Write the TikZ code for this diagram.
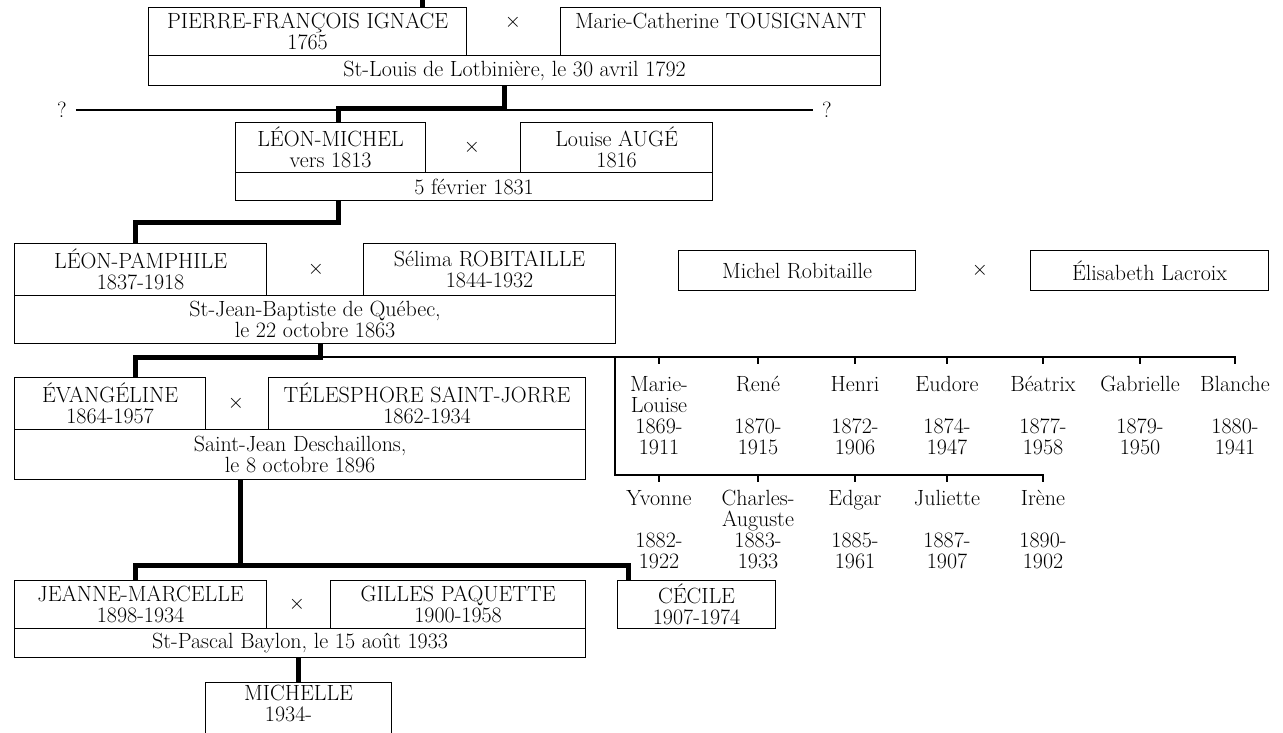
\documentclass[tikz,border=0pt]{standalone}
\usetikzlibrary{positioning,calc}
\begin{document}
\begin{tikzpicture}[x=1pt,y=-1pt]
\tikzset{
  person/.style={draw, line width=1.2pt, inner sep=0pt, align=center, anchor=north west,
                 font=\fontsize{22}{21}\selectfont},
  kid/.style={inner sep=0pt, align=center, anchor=north, font=\fontsize{22}{21}\selectfont},
  fois/.style={font=\fontsize{22}{21}\selectfont},
  qmark/.style={inner sep=9pt, font=\fontsize{22}{21}\selectfont},
  lien/.style={line width=5pt},
  fil/.style={line width=1.2pt}
}
\useasboundingbox (0,0) rectangle (1283,732);

    % generation 1
    \node[person, minimum width=318, minimum height=48] (pierre) at (148,7) {PIERRE-FRANÇOIS IGNACE\\1765};
    \node[fois] (x1) at (513,22) {$\times$};
    \node[person, minimum width=320, minimum height=48] (mcath) at (560,7) {Marie-Catherine TOUSIGNANT\\\mbox{}};
    \node[person, minimum width=732, minimum height=30] (mar1) at (148,55) {St-Louis de Lotbinière, le 30 avril 1792};

    \coordinate (haut) at (422,0);
    \draw[lien] (haut) -- (haut |- pierre.north);

    \node[qmark] (q1) at (62,110) {?};
    \node[qmark] (q2) at (827,110) {?};
    \draw[fil] (q1) -- (q2);

    % generation 2
    \node[person, minimum width=190, minimum height=50] (lmichel) at (235,122) {LÉON-MICHEL\\vers 1813};
    \node[fois] (x2) at (472,147) {$\times$};
    \node[person, minimum width=192, minimum height=50] (lauge) at (520,122) {Louise AUGÉ\\1816};
    \node[person, minimum width=477, minimum height=28] (mar2) at (235,172) {5 février 1831};

    \coordinate (j1) at (504,108);
    \draw[lien] (j1 |- mar1.south) -- (j1) -| ([xshift=8pt]lmichel.north);

    % generation 3
    \node[person, minimum width=252, minimum height=52] (lpamph) at (14,243) {LÉON-PAMPHILE\\1837-1918};
    \node[fois] (x3) at (316,269) {$\times$};
    \node[person, minimum width=252, minimum height=52] (selima) at (363,243) {Sélima ROBITAILLE\\1844-1932};
    \node[person, minimum width=601, minimum height=48] (mar3) at (14,295) {St-Jean-Baptiste de Québec,\\le 22 octobre 1863};

    \coordinate (j2) at (338,222);
    \draw[lien] (j2 |- mar2.south) -- (j2) -| (135,243);

    \node[person, minimum width=237, minimum height=40] (mrob) at (678,250) {Michel Robitaille};
    \node[fois] (x4) at (980,270) {$\times$};
    \node[person, minimum width=238, minimum height=40] (elac) at (1030,250) {Élisabeth Lacroix};

    % generation 4
    \node[person, minimum width=191, minimum height=52] (evang) at (14,377) {ÉVANGÉLINE\\1864-1957};
    \node[fois] (x5) at (236,403) {$\times$};
    \node[person, minimum width=317, minimum height=52] (telesph) at (268,377) {TÉLESPHORE SAINT-JORRE\\1862-1934};
    \node[person, minimum width=571, minimum height=50] (mar4) at (14,429) {Saint-Jean Deschaillons,\\le 8 octobre 1896};

    \coordinate (j3) at (320,357);
    \draw[lien] (j3 |- mar3.south) -- (j3) -| ([xshift=25pt]evang.north);

    % freres et soeurs
    \coordinate (f1) at (615,357);
    \coordinate (f2) at (615,475);
    \draw[fil] (j3) -- (1235,357) -- ++(0,7);
    \draw[fil] (f1) -- (f2) -- (1043,475) -- ++(0,7);
    \foreach \n/\x/\t in {k1/659/{Marie-\\Louise\\1869-\\1911}, k2/758/{René\\\mbox{}\\1870-\\1915},
                          k3/855/{Henri\\\mbox{}\\1872-\\1906}, k4/947/{Eudore\\\mbox{}\\1874-\\1947},
                          k5/1043/{Béatrix\\\mbox{}\\1877-\\1958}, k6/1140/{Gabrielle\\\mbox{}\\1879-\\1950},
                          k7/1235/{Blanche\\\mbox{}\\1880-\\1941}}
        \node[kid] (\n) at (\x,376) {\t};
    \foreach \n in {k1,k2,k3,k4,k5,k6}
        \draw[fil] (\n.north |- f1) -- ++(0,7);
    \foreach \n/\x/\t in {k8/659/{Yvonne\\\mbox{}\\1882-\\1922}, k9/758/{Charles-\\Auguste\\1883-\\1933},
                          k10/855/{Edgar\\\mbox{}\\1885-\\1961}, k11/947/{Juliette\\\mbox{}\\1887-\\1907},
                          k12/1043/{Irène\\\mbox{}\\1890-\\1902}}
        \node[kid] (\n) at (\x,490) {\t};
    \foreach \n in {k8,k9,k10,k11}
        \draw[fil] (\n.north |- f2) -- ++(0,7);

    % generation 5
    \node[person, minimum width=252, minimum height=48] (jeanne) at (14,580) {JEANNE-MARCELLE\\1898-1934};
    \node[fois] (x6) at (297,604) {$\times$};
    \node[person, minimum width=255, minimum height=48] (gilles) at (330,580) {GILLES PAQUETTE\\1900-1958};
    \node[person, minimum width=571, minimum height=29] (mar5) at (14,628) {St-Pascal Baylon, le 15 août 1933};
    \node[person, minimum width=158, minimum height=48] (cecile) at (617,580) {CÉCILE\\1907-1974};

    \coordinate (j4) at (240,565);
    \draw[lien] (j4 |- mar4.south) -- (j4);
    \draw[lien] ([xshift=-5pt]jeanne.north) |- (j4) -| ([xshift=-68pt]cecile.north);

    % generation 6
    \node[person, minimum width=186, inner ysep=3pt] (michelle) at (205,682) {MICHELLE\\1934-\hphantom{00}\\\mbox{}\\\mbox{}};
    \draw[lien] (mar5.south -| michelle.north) -- (michelle.north);

\end{tikzpicture}
\end{document}
